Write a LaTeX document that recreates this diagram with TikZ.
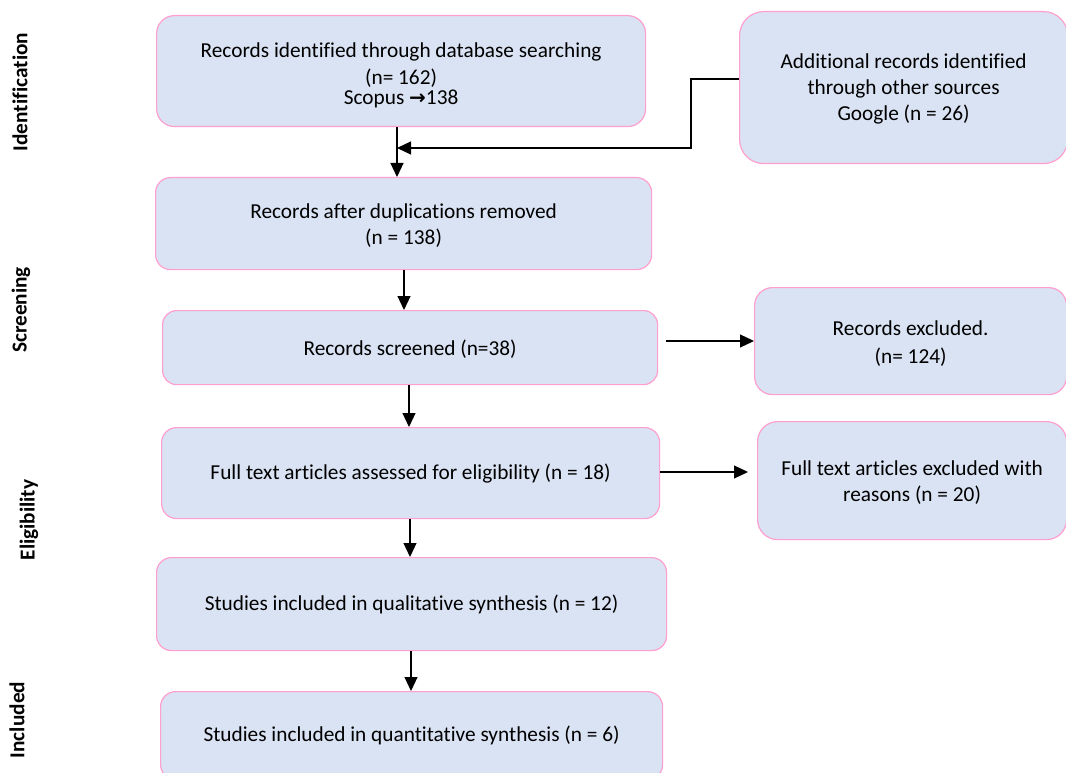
\documentclass[tikz,border=0pt]{standalone}
\usepackage{fontspec}
\setmainfont{Carlito}[Ligatures={NoCommon,NoContextual}]
\newfontfamily\dejavu{DejaVu Sans}
\usetikzlibrary{arrows.meta}
\definecolor{boxfill}{HTML}{DAE3F3}
\definecolor{boxline}{HTML}{FF9FD0}
\tikzset{
  box/.style={draw=boxline, fill=boxfill, line width=1.2pt, rounded corners=#1,
    anchor=north west, inner sep=0pt, align=center,
    font=\fontsize{21.3}{26}\selectfont},
  lab/.style={rotate=90, font=\bfseries\fontsize{21.3}{26}\selectfont, inner sep=0pt},
  arr/.style={draw=black, line width=1.2pt, -{Triangle[length=14pt,width=13pt]}},
}
\begin{document}
\begin{tikzpicture}[x=1pt,y=-1pt]
\useasboundingbox (0,0) rectangle (1066,773);
\clip (0,0) rectangle (1066,773);
% stage labels
\node[lab] (l1) at (20,92) {Identification};
\node[lab] (l2) at (21,310) {Screening};
\node[lab] (l3) at (29,520) {Eligibility};
\node[lab] (l4) at (17,720) {Included};
% boxes
\node[box=18pt, minimum width=489pt, minimum height=111pt] (b1) at (156,15)
  {\rule{0pt}{24pt}Records identified through database searching\\[1pt] (n= 162)\\[-6pt]
   Scopus {\dejavu\bfseries\fontsize{20}{20}\selectfont →}138};
\node[box=24pt, minimum width=328pt, minimum height=152pt] (add) at (739,11)
  {\rule{0pt}{18pt}Additional records identified\\ through other sources\\ Google (n = 26)};
\node[box=15pt, minimum width=496pt, minimum height=92pt] (b2) at (155,177)
  {\rule{0pt}{19pt}Records after duplications removed\\ (n = 138)};
\node[box=14pt, minimum width=495pt, minimum height=74pt] (b3) at (162,310)
  {\rule{0pt}{18pt}Records screened (n=38)};
\node[box=18pt, minimum width=312pt, minimum height=107pt] (ex1) at (754,287)
  {\rule{0pt}{20pt}Records excluded.\\[2pt] (n= 124)};
\node[box=20pt, minimum width=309pt, minimum height=118pt] (ex2) at (757,421)
  {\rule{0pt}{18pt}Full text articles excluded with\\ reasons (n = 20)};
\node[box=15pt, minimum width=498pt, minimum height=91pt] (b4) at (161,427)
  {\rule{0pt}{17pt}Full text articles assessed for eligibility (n = 18)};
\node[box=15pt, minimum width=510pt, minimum height=93pt] (b5) at (156,557)
  {\rule{0pt}{17pt}Studies included in qualitative synthesis (n = 12)};
\node[box=15pt, minimum width=502pt, minimum height=88pt] (b6) at (160,691)
  {Studies included in quantitative synthesis (n = 6)};
% connectors
\coordinate (c1) at (397,0);
\coordinate (j1) at (691,79);
\coordinate (j2) at (397,148);
\draw[arr] (c1 |- b1.south) -- (c1 |- b2.north);
\draw[arr] (j1 -| add.west) -- (j1) |- (j2);
\coordinate (c2) at (404,0);
\draw[arr] (c2 |- b2.south) -- (c2 |- b3.north);
\coordinate (c3) at (409,0);
\draw[arr] (c3 |- b3.south) -- (c3 |- b4.north);
\coordinate (c4) at (410,0);
\draw[arr] (c4 |- b4.south) -- (c4 |- b5.north);
\coordinate (c5) at (411,0);
\draw[arr] (c5 |- b5.south) -- (c5 |- b6.north);
\coordinate (h1) at (666,341);
\draw[arr] (h1) -- (h1 -| ex1.west);
\coordinate (h2) at (0,472);
\coordinate (h2e) at (748,472);
\draw[arr] (h2 -| b4.east) -- (h2e);
\end{tikzpicture}
\end{document}
